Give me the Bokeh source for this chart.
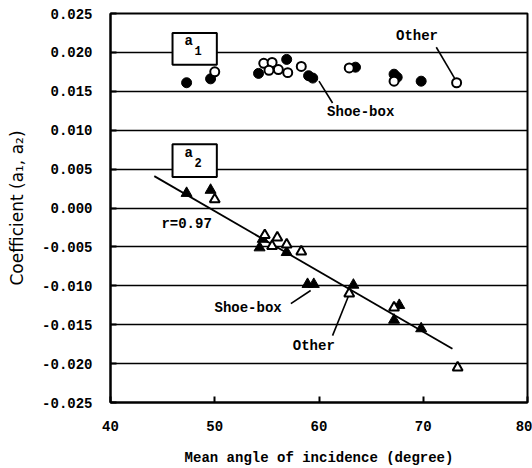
from bokeh.plotting import figure
from bokeh.models import Range1d, FixedTicker, PrintfTickFormatter
from bokeh.core.properties import value
from bokeh.embed import file_html
from bokeh.resources import INLINE

# a1 coefficient: shoe-box rooms (filled) and other rooms (open)
a1_shoebox_x = [47.3, 49.6, 54.2, 56.9, 59.0, 59.4, 63.5, 67.2, 67.5, 69.8]
a1_shoebox_y = [0.0161, 0.0166, 0.0173, 0.0191, 0.0170, 0.0167, 0.0181, 0.0172, 0.0168, 0.0163]
a1_other_x = [50.0, 54.7, 55.5, 55.2, 56.1, 57.0, 58.3, 62.9, 67.2, 73.2]
a1_other_y = [0.0175, 0.0186, 0.0187, 0.0177, 0.0178, 0.0174, 0.0182, 0.0180, 0.0163, 0.0161]

# a2 coefficient
a2_shoebox_x = [47.3, 49.6, 54.6, 54.3, 56.9, 58.9, 59.5, 63.3, 67.7, 67.2, 69.8]
a2_shoebox_y = [0.0019, 0.0023, -0.0040, -0.0051, -0.0057, -0.0098, -0.0098, -0.0099, -0.0125, -0.0144, -0.0155]
a2_other_x = [50.0, 54.8, 56.0, 55.5, 56.9, 58.3, 62.9, 67.2, 73.3]
a2_other_y = [0.0011, -0.0035, -0.0038, -0.0049, -0.0047, -0.0056, -0.0110, -0.0128, -0.0205]

# linear fit of a2 against angle (r = 0.97)
fit_x = [44.2, 72.8]
fit_y = [0.0041, -0.0181]

x_ticks = [40, 50, 60, 70, 80]
y_ticks = [-0.025, -0.020, -0.015, -0.010, -0.005, 0.0, 0.005, 0.010, 0.015, 0.020, 0.025]

MONO = value("Liberation Mono")

p = figure(width=532, height=468, output_backend="svg", toolbar_location=None,
           x_range=Range1d(40, 80), y_range=Range1d(-0.025, 0.025),
           min_border_left=110, min_border_right=5, min_border_top=13, min_border_bottom=63)

p.outline_line_color = "black"
p.outline_line_width = 2
p.background_fill_color = "white"
p.border_fill_color = "white"

p.xgrid.visible = False
p.ygrid.ticker = FixedTicker(ticks=y_ticks)
p.ygrid.grid_line_color = "black"
p.ygrid.grid_line_width = 1.6

p.xaxis.ticker = FixedTicker(ticks=x_ticks)
p.yaxis.ticker = FixedTicker(ticks=y_ticks)
p.yaxis.formatter = PrintfTickFormatter(format="%.3f")

for ax in (p.xaxis[0], p.yaxis[0]):
    ax.axis_line_width = 2
    ax.axis_line_color = "black"
    ax.major_tick_in = 6
    ax.major_tick_out = 0
    ax.major_tick_line_width = 2
    ax.major_tick_line_color = "black"
    ax.minor_tick_line_color = None
    ax.major_label_text_font = "Liberation Mono"
    ax.major_label_text_font_style = "bold"
    ax.major_label_text_font_size = "14px"
    ax.major_label_text_color = "black"
    ax.axis_label_text_color = "black"

p.xaxis.major_label_standoff = 18
p.yaxis.major_label_standoff = 18

p.xaxis.axis_label = "Mean angle of incidence (degree)"
p.xaxis.axis_label_text_font = "Liberation Mono"
p.xaxis.axis_label_text_font_style = "bold"
p.xaxis.axis_label_text_font_size = "14px"
p.xaxis.axis_label_standoff = 16

p.yaxis.axis_label = "Coefficient (a₁, a₂)"
p.yaxis.axis_label_text_font = "DejaVu Sans"
p.yaxis.axis_label_text_font_style = "normal"
p.yaxis.axis_label_text_font_size = "17px"
p.yaxis.axis_label_standoff = 12

# fit line
p.line(fit_x, fit_y, line_color="black", line_width=1.8)

# a1 points
p.scatter(a1_shoebox_x, a1_shoebox_y, marker="circle", size=10,
          fill_color="black", line_color="black", line_width=1)
p.scatter(a1_other_x, a1_other_y, marker="circle", size=9,
          fill_color="white", line_color="black", line_width=2)

# a2 points
p.scatter(a2_shoebox_x, a2_shoebox_y, marker="triangle", size=11,
          fill_color="black", line_color="black", line_width=1)
p.scatter(a2_other_x, a2_other_y, marker="triangle", size=10,
          fill_color="white", line_color="black", line_width=2)

# labelled boxes for the two coefficients
p.quad(left=[45.95, 45.95], right=[50.2, 50.2], bottom=[0.0184, 0.0040], top=[0.0225, 0.0082],
       fill_color="white", line_color="black", line_width=2)
p.text(x=[47.5, 47.5], y=[0.0215, 0.0071], text=["a", "a"], text_font=MONO,
       text_font_style="bold", text_font_size="14px", text_align="center",
       text_baseline="middle")
p.text(x=[48.4, 48.4], y=[0.0203, 0.0059], text=["1", "2"], text_font=MONO,
       text_font_style="bold", text_font_size="12px", text_align="center",
       text_baseline="middle")

# group annotations with leader lines
p.text(x=[69.4, 64.0, 53.2, 59.5, 47.3], y=[0.0221, 0.0124, -0.0129, -0.0178, -0.0020],
       text=["Other", "Shoe-box", "Shoe-box", "Other", "r=0.97"], text_font=MONO,
       text_font_style="bold", text_font_size="14px", text_align="center",
       text_baseline="middle")
p.segment(x0=[71.25, 60.0, 57.3, 61.3], y0=[0.02066, 0.0163, -0.0123, -0.0164],
          x1=[73.0, 61.3, 59.2, 62.8], y1=[0.0167, 0.0135, -0.0106, -0.0114],
          line_color="black", line_width=1.6)

open("out.html", "w").write(file_html(p, INLINE))
